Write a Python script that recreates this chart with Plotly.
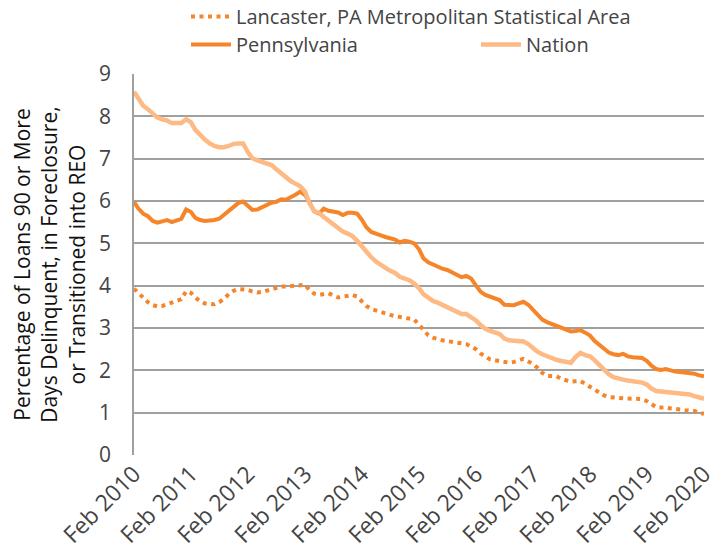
import plotly.graph_objects as go
import pandas as pd

# Monthly observations, Feb 2010 .. Feb 2020 (121 months)
months = pd.date_range("2010-02-01", "2020-02-01", freq="MS")

nation = [
    8.58, 8.42, 8.25, 8.17, 8.05, 7.97, 7.93, 7.90, 7.84, 7.84, 7.84, 7.93,
    7.86, 7.68, 7.55, 7.45, 7.36, 7.30, 7.27, 7.27, 7.30, 7.35, 7.36, 7.36,
    7.15, 7.01, 6.96, 6.92, 6.88, 6.85, 6.75, 6.65, 6.55, 6.47, 6.41, 6.35,
    6.22, 5.95, 5.76, 5.72, 5.62, 5.53, 5.43, 5.35, 5.28, 5.23, 5.17, 5.06,
    4.92, 4.80, 4.67, 4.57, 4.48, 4.42, 4.35, 4.30, 4.21, 4.18, 4.13, 4.05,
    3.94, 3.80, 3.72, 3.64, 3.60, 3.55, 3.50, 3.45, 3.38, 3.33, 3.33, 3.27,
    3.18, 3.07, 2.98, 2.93, 2.89, 2.86, 2.75, 2.71, 2.70, 2.69, 2.68, 2.62,
    2.52, 2.44, 2.38, 2.33, 2.29, 2.25, 2.22, 2.20, 2.18, 2.32, 2.41, 2.36,
    2.33, 2.24, 2.12, 2.01, 1.91, 1.84, 1.80, 1.78, 1.76, 1.74, 1.73, 1.71,
    1.66, 1.57, 1.51, 1.50, 1.50, 1.48, 1.46, 1.45, 1.44, 1.43, 1.39, 1.35,
    1.33,
]

pennsylvania = [
    5.98, 5.82, 5.70, 5.64, 5.53, 5.49, 5.52, 5.55, 5.50, 5.53, 5.58, 5.80,
    5.74, 5.60, 5.55, 5.53, 5.53, 5.55, 5.58, 5.67, 5.78, 5.87, 5.95, 5.99,
    5.89, 5.79, 5.80, 5.86, 5.92, 5.96, 5.98, 6.04, 6.03, 6.08, 6.15, 6.22,
    6.14, 5.97, 5.75, 5.70, 5.82, 5.77, 5.74, 5.73, 5.67, 5.72, 5.72, 5.70,
    5.55, 5.38, 5.27, 5.22, 5.19, 5.15, 5.13, 5.09, 5.02, 5.06, 5.04, 5.00,
    4.86, 4.65, 4.55, 4.50, 4.44, 4.40, 4.37, 4.32, 4.27, 4.20, 4.23, 4.17,
    4.00, 3.86, 3.78, 3.74, 3.71, 3.66, 3.55, 3.54, 3.54, 3.58, 3.62, 3.55,
    3.42, 3.30, 3.20, 3.14, 3.10, 3.06, 3.01, 2.97, 2.92, 2.93, 2.95, 2.89,
    2.82, 2.70, 2.60, 2.52, 2.42, 2.38, 2.36, 2.39, 2.33, 2.31, 2.31, 2.29,
    2.22, 2.11, 2.03, 2.01, 2.03, 1.99, 1.97, 1.96, 1.95, 1.95, 1.92, 1.88,
    1.86,
]

lancaster = [
    3.93, 3.82, 3.70, 3.61, 3.54, 3.51, 3.52, 3.56, 3.60, 3.64, 3.68, 3.87,
    3.83, 3.72, 3.63, 3.58, 3.56, 3.56, 3.61, 3.69, 3.80, 3.88, 3.92, 3.91,
    3.90, 3.86, 3.84, 3.85, 3.88, 3.91, 3.95, 3.98, 3.98, 3.99, 4.02, 4.03,
    4.02, 3.90, 3.81, 3.78, 3.80, 3.82, 3.77, 3.72, 3.74, 3.76, 3.78, 3.74,
    3.63, 3.52, 3.45, 3.41, 3.38, 3.35, 3.31, 3.28, 3.26, 3.25, 3.24, 3.20,
    3.08, 2.95, 2.83, 2.77, 2.73, 2.71, 2.69, 2.67, 2.65, 2.63, 2.62, 2.56,
    2.50, 2.40, 2.32, 2.26, 2.24, 2.22, 2.19, 2.18, 2.20, 2.23, 2.27, 2.21,
    2.15, 2.06, 1.94, 1.87, 1.87, 1.86, 1.80, 1.77, 1.73, 1.74, 1.75, 1.68,
    1.61, 1.55, 1.47, 1.41, 1.37, 1.35, 1.35, 1.34, 1.33, 1.32, 1.32, 1.32,
    1.27, 1.20, 1.13, 1.12, 1.13, 1.10, 1.08, 1.07, 1.06, 1.05, 1.04, 1.00,
    0.97,
]

tick_dates = ["2010-02-01", "2011-02-01", "2012-02-01", "2013-02-01", "2014-02-01",
              "2015-02-01", "2016-02-01", "2017-02-01", "2018-02-01", "2019-02-01",
              "2020-02-01"]
tick_labels = ["Feb 2010", "Feb 2011", "Feb 2012", "Feb 2013", "Feb 2014", "Feb 2015",
               "Feb 2016", "Feb 2017", "Feb 2018", "Feb 2019", "Feb 2020"]

C_PA = "#F6852A"
C_NAT = "#FDBA85"
FONT = "Open Sans"
TXT = "#444"

W, H = 725, 553
L, T = 134, 74
PW, PH = 570, 381
R, B = W - L - PW, H - T - PH

fig = go.Figure()
fig.add_trace(go.Scatter(x=months, y=lancaster, mode="lines",
                         name="Lancaster, PA Metropolitan Statistical Area",
                         line=dict(color=C_PA, width=4, dash="4px,4.5px"),
                         legend="legend"))
fig.add_trace(go.Scatter(x=months, y=pennsylvania, mode="lines", name="Pennsylvania",
                         line=dict(color=C_PA, width=4), legend="legend2"))
fig.add_trace(go.Scatter(x=months, y=nation, mode="lines", name="Nation",
                         line=dict(color=C_NAT, width=4.5), legend="legend3"))

leg_common = dict(orientation="h", xanchor="left", yanchor="top",
                  font=dict(size=20, color=TXT), itemwidth=40,
                  bgcolor="rgba(0,0,0,0)")

def px_x(sx):  # pixel x -> paper x
    return (sx - L) / PW

def px_y(sy):  # pixel y -> paper y
    return 1 + (T - sy) / PH

fig.update_layout(
    width=W, height=H,
    margin=dict(l=L, r=R, t=T, b=B, autoexpand=False),
    plot_bgcolor="white", paper_bgcolor="white",
    font=dict(family=FONT, color=TXT, size=19),
    showlegend=True,
    legend=dict(x=px_x(186), y=px_y(-3), **leg_common),
    legend2=dict(x=px_x(186), y=px_y(25), **leg_common),
    legend3=dict(x=px_x(476), y=px_y(25), **leg_common),
    xaxis=dict(
        type="date", automargin=False,
        range=[months[0], months[-1]],
        tickvals=tick_dates, ticktext=tick_labels,
        tickangle=-45, showgrid=False, zeroline=False,
        showline=False, ticks="",
        tickfont=dict(size=23, color=TXT),
    ),
    yaxis=dict(
        range=[0, 9], dtick=1, tick0=0, automargin=False,
        showgrid=True, gridcolor="#a0a0a0", gridwidth=1.5,
        zeroline=False, showline=True, linecolor="#a0a0a0", linewidth=1.5,
        ticks="", ticklabelstandoff=17, tickfont=dict(size=21, color=TXT),
        title=dict(text="Percentage of Loans 90 or More<br>Days Delinquent, in Foreclosure,<br>or Transitioned into REO",
                   font=dict(size=21, color="#111"), standoff=8),
    ),
)

# remove the browser's default 8px page margin so the figure fills the window
fig.write_html("out.html", config={"displayModeBar": False},
               post_script="document.body.style.margin='0';")
